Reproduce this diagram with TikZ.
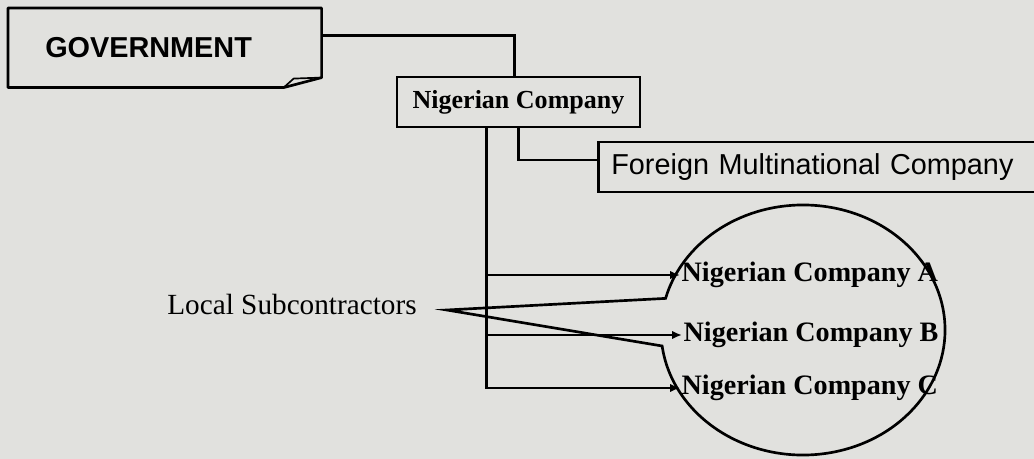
\documentclass[tikz,border=0pt]{standalone}
\usepackage{fontspec}
\setmainfont{Liberation Serif}
\newfontfamily\arialfont{Liberation Sans}
\usetikzlibrary{shapes.callouts, arrows.meta, calc}
\definecolor{paper}{RGB}{225,225,222}

\begin{document}
\begin{tikzpicture}[x=0.025cm, y=-0.025cm,
    box/.style={draw, line width=1.9pt, inner sep=0pt},
    firm/.style={font=\bfseries\fontsize{20}{24}\selectfont, anchor=west, inner sep=1pt},
    link/.style={line width=1.9pt},
    arr/.style={link, -{Latex[length=7pt, width=6pt]}}]
    \fill[paper] (0,0) rectangle (1034,459);
    \useasboundingbox (0,0) rectangle (1034,459);
    \clip (0,0) rectangle (1034,459);

    \node[anchor=north west, minimum height=1.975cm, text width=5.975cm, inner xsep=0.925cm, inner ysep=0pt, align=left, font=\arialfont\bfseries\fontsize{20.5}{24}\selectfont] (gov) at (8,8) {GOVERNMENT};
    \draw[link, line join=round] (gov.north west) -- (gov.north east) -- ($(gov.south east)+(0,-10)$) -- ($(gov.south east)+(-38,0)$) -- (gov.south west) -- cycle;
    \draw[line width=1.2pt, line join=round] ($(gov.south east)+(-38,0)$) -- ($(gov.south east)+(-28,-9)$) -- ($(gov.south east)+(0,-10)$);

    \node[box, minimum width=6.075cm, minimum height=1.25cm, font=\bfseries\fontsize{18.5}{22}\selectfont] (nc) at (518.5,102) {Nigerian Company};
    \node[box, anchor=west, minimum height=1.25cm, text width=10.8cm, inner xsep=0.325cm, align=left, font=\arialfont\fontsize{20.5}{24}\selectfont] (fmc) at (597,167) {Foreign Multinational Company};

    \draw[link] ($(gov.east)+(0,-12)$) -| ($(nc.north)+(-4,0)$);
    \draw[link] (nc.south) |- ($(fmc.west)+(0,-7)$);

    \node[font=\fontsize{20.8}{24}\selectfont, inner sep=2pt] (sub) at (292,304) {Local Subcontractors};
    \node[ellipse callout, draw, line width=1.9pt, minimum width=7.1cm, minimum height=6.25cm, callout absolute pointer={($(sub.east)+(27,6)$)}, callout pointer arc=22] (grp) at (803,330) {};

    \node[firm] (ncA) at (680,275) {Nigerian Company A};
    \node[firm] (ncB) at (682,335) {Nigerian Company B};
    \node[firm] (ncC) at (680,388) {Nigerian Company C};

    \coordinate (trunk) at ($(nc.south west)+(91,0)$);
    \draw[arr] (trunk) |- (ncC.west);
    \draw[arr] (trunk |- ncA.west) -- (ncA.west);
    \draw[arr] (trunk |- ncB.west) -- (ncB.west);
\end{tikzpicture}
\end{document}
